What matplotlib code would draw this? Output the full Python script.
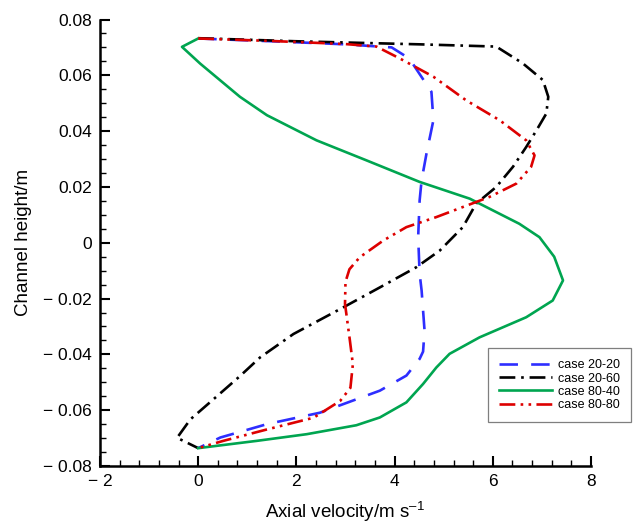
import matplotlib
matplotlib.use("Agg")
import matplotlib.pyplot as plt
from matplotlib.ticker import MultipleLocator, FuncFormatter

plt.rcParams['font.family'] = ['Liberation Sans', 'DejaVu Sans']
plt.rcParams['mathtext.fontset'] = 'custom'
plt.rcParams['mathtext.rm'] = 'Liberation Sans'

# case 20-20
blue_x = [0, 1.5, 3.0, 3.94, 4.3, 4.75, 4.79, 4.65, 4.55, 4.51, 4.48, 4.51, 4.55, 4.61, 4.58, 4.51, 4.24, 3.70, 2.48, 1.4, 0.45, 0]
blue_y = [0.0732, 0.0722, 0.0711, 0.0700, 0.066, 0.0541, 0.0439, 0.032, 0.0224, 0.0152, 0.002, -0.0111, -0.0171, -0.0315, -0.0390, -0.0416, -0.0476, -0.0530, -0.0609, -0.065, -0.0698, -0.0736]

# case 20-60
black_x = [0, 2.0, 4.51, 6.07, 6.61, 7.02, 7.13, 7.09, 6.89, 6.68, 6.41, 6.07, 5.66, 5.39, 4.92, 4.44, 3.7, 2.95, 1.94, 1.26, 0.85, 0.31, -0.16, -0.43, 0]
black_y = [0.0733, 0.0722, 0.0711, 0.0703, 0.0643, 0.0583, 0.0523, 0.0463, 0.0403, 0.0343, 0.0272, 0.0200, 0.014, 0.0056, -0.0028, -0.0088, -0.016, -0.0232, -0.0327, -0.0411, -0.0478, -0.0561, -0.0633, -0.0699, -0.0736]

# case 80-40
green_x = [0, -0.33, 0.04, 0.85, 1.40, 2.41, 3.43, 4.51, 5.53, 6.54, 6.95, 7.25, 7.43, 7.22, 6.68, 5.73, 5.12, 4.85, 4.58, 4.24, 3.70, 3.22, 2.21, 1.19, 0]
green_y = [0.0732, 0.0702, 0.0642, 0.0523, 0.0457, 0.0367, 0.0295, 0.0218, 0.0158, 0.0068, 0.0020, -0.0050, -0.0135, -0.0207, -0.0267, -0.0339, -0.0398, -0.0447, -0.0506, -0.0572, -0.0626, -0.0654, -0.0686, -0.071, -0.0736]

# case 80-80
red_x = [0, 1.5, 3.0, 3.63, 4.11, 4.79, 5.46, 6.14, 6.68, 6.85, 6.78, 6.48, 5.93, 4.85, 4.24, 3.77, 3.29, 3.08, 3.0, 2.99, 3.09, 3.15, 3.10, 2.89, 2.35, 1.4, 0.51, 0]
red_y = [0.0732, 0.0723, 0.0712, 0.0703, 0.066, 0.0595, 0.051, 0.0439, 0.0367, 0.0313, 0.0272, 0.0212, 0.0164, 0.0092, 0.0056, 0.0008, -0.0052, -0.0095, -0.0140, -0.0219, -0.0351, -0.0435, -0.0520, -0.0567, -0.0627, -0.0669, -0.071, -0.0736]

labels = ['case 20-20', 'case 20-60', 'case 80-40', 'case 80-80']

fig = plt.figure(figsize=(6.38, 5.26), dpi=100)
ax = fig.add_axes([100/638, 1-466/526, (591-100)/638, (466-19.5)/526])

lw = 1.9
ax.plot(blue_x, blue_y, color='#2e2eff', lw=lw, dashes=(7, 5), label=labels[0])
ax.plot(black_x, black_y, color='black', lw=lw, dashes=(6, 2.2, 1, 2.2), label=labels[1])
ax.plot(green_x, green_y, color='#00a550', lw=lw, label=labels[2])
ax.plot(red_x, red_y, color='#dd0000', lw=lw, dashes=(6, 2, 1, 2, 1, 2), label=labels[3])

ax.set_xlim(-2, 8)
ax.set_ylim(-0.08, 0.08)
ax.spines['top'].set_visible(False)
ax.spines['right'].set_visible(False)
for s in ['left', 'bottom']:
    ax.spines[s].set_linewidth(1.8)

ax.xaxis.set_major_locator(MultipleLocator(2))
ax.xaxis.set_minor_locator(MultipleLocator(0.4))
ax.yaxis.set_major_locator(MultipleLocator(0.02))
ax.yaxis.set_minor_locator(MultipleLocator(0.005))

def fmt_x(v, pos):
    v = round(v)
    return '\u2212 %d' % abs(v) if v < 0 else '%d' % v

def fmt_y(v, pos):
    if abs(v) < 1e-9:
        return '0'
    return ('\u2212 %.2f' % abs(v)) if v < 0 else '%.2f' % v

ax.xaxis.set_major_formatter(FuncFormatter(fmt_x))
ax.yaxis.set_major_formatter(FuncFormatter(fmt_y))
ax.tick_params(which='major', direction='in', length=7, width=1.5, labelsize=12.5, pad=6)
ax.tick_params(which='minor', direction='in', length=4, width=1.0)

ax.set_xlabel('Axial velocity/m s$^{\\mathregular{\u20131}}$', fontsize=13.5, labelpad=7)
ax.set_ylabel('Channel height/m', fontsize=13.5, labelpad=8)

leg = ax.legend(loc='upper left', bbox_to_anchor=(488/638, 1-348/526), bbox_transform=fig.transFigure,
                fontsize=9, frameon=True, fancybox=False, framealpha=1, edgecolor='#7f7f7f',
                handlelength=4.2, handletextpad=0.5, labelspacing=0.1, borderpad=0.9, borderaxespad=0)
leg.get_frame().set_linewidth(0.9)

fig.savefig('out.png', dpi=100)
